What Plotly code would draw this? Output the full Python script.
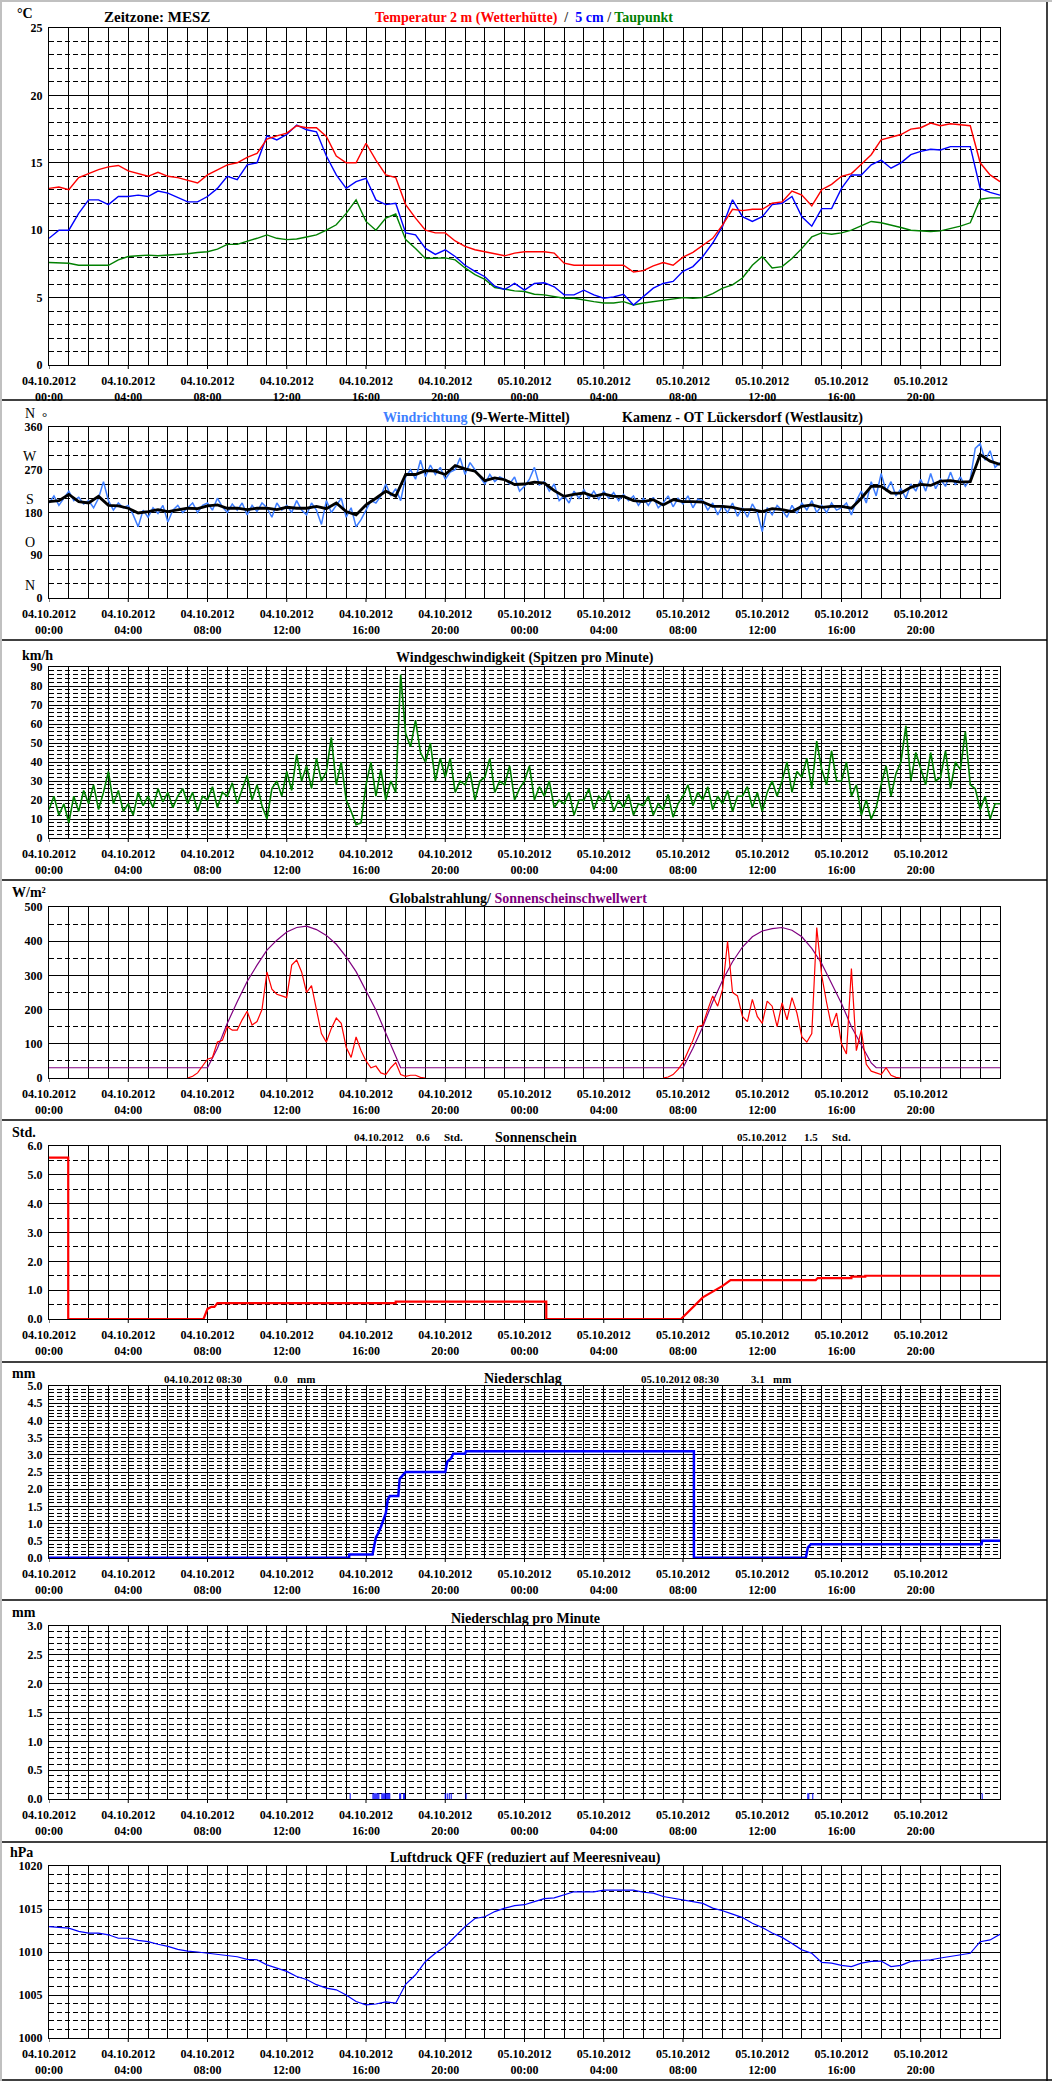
import plotly.graph_objects as go

# ---------------- data (x = hours since 04.10.2012 00:00 MESZ) ----------------
HALF_HOURS = [i * 0.5 for i in range(97)]
QUARTER_HOURS = [i * 0.25 for i in range(193)]
HOUR_GRID = list(range(49))

XTICK_HOURS = [0, 4, 8, 12, 16, 20, 24, 28, 32, 36, 40, 44]
XTICK_TEXT = ["04.10.2012<br>00:00", "04.10.2012<br>04:00", "04.10.2012<br>08:00",
              "04.10.2012<br>12:00", "04.10.2012<br>16:00", "04.10.2012<br>20:00",
              "05.10.2012<br>00:00", "05.10.2012<br>04:00", "05.10.2012<br>08:00",
              "05.10.2012<br>12:00", "05.10.2012<br>16:00", "05.10.2012<br>20:00"]

temp_2m = [13.1, 13.2, 13.0, 13.9, 14.2, 14.5, 14.7, 14.8, 14.4, 14.2, 14.0, 14.3, 14.0, 13.9, 13.7, 13.5,
           14.1, 14.5, 14.85, 15.0, 15.4, 15.7, 16.75, 17.0, 17.2, 17.75, 17.6, 17.6, 16.95, 15.5, 15.0, 15.0,
           16.45, 15.2, 14.1, 13.9, 11.9, 10.9, 10.0, 9.8, 9.8, 9.2, 8.8, 8.55, 8.4, 8.2, 8.1, 8.3,
           8.4, 8.4, 8.4, 8.3, 7.55, 7.4, 7.4, 7.4, 7.35, 7.4, 7.4, 6.9, 7.0, 7.35, 7.6, 7.4,
           8.0, 8.35, 8.9, 9.4, 10.4, 11.55, 11.45, 11.55, 11.55, 12.0, 12.1, 12.9, 12.6, 11.8, 13.0, 13.4,
           14.0, 14.2, 14.9, 15.6, 16.7, 16.9, 17.1, 17.5, 17.6, 17.95, 17.75, 17.9, 17.8, 17.75, 15.0, 14.1, 13.6]

temp_5cm = [9.4, 10.0, 10.0, 11.25, 12.25, 12.25, 11.9, 12.5, 12.5, 12.6, 12.5, 12.9, 12.75, 12.45, 12.1, 12.1,
            12.5, 13.1, 14.0, 13.75, 14.85, 15.0, 17.0, 16.7, 17.1, 17.8, 17.45, 17.3, 15.5, 14.1, 13.1, 13.6,
            13.85, 12.25, 11.9, 12.0, 9.8, 9.65, 8.65, 8.2, 8.55, 8.05, 7.4, 6.95, 6.55, 5.85, 5.6, 6.05,
            5.55, 6.05, 6.1, 5.8, 5.2, 5.2, 5.55, 5.2, 4.95, 5.05, 5.25, 4.45, 5.1, 5.7, 6.05, 6.2,
            6.95, 7.3, 8.05, 9.05, 10.3, 12.25, 11.0, 10.65, 11.0, 11.9, 12.0, 12.5, 11.0, 10.3, 11.6, 11.6,
            13.1, 14.1, 14.1, 14.85, 15.2, 14.6, 15.0, 15.6, 15.85, 16.0, 15.95, 16.2, 16.2, 16.2, 13.1, 12.8, 12.6]

dewpoint = [7.6, 7.55, 7.55, 7.4, 7.4, 7.4, 7.4, 7.8, 8.05, 8.1, 8.15, 8.1, 8.15, 8.15, 8.25, 8.35,
            8.4, 8.6, 8.95, 8.95, 9.15, 9.4, 9.65, 9.4, 9.3, 9.35, 9.5, 9.65, 10.0, 10.4, 11.25, 12.25,
            10.65, 10.0, 10.9, 11.2, 9.3, 8.65, 7.9, 7.9, 7.95, 7.8, 7.2, 6.7, 6.35, 5.75, 5.6, 5.5,
            5.45, 5.25, 5.2, 5.1, 4.95, 4.95, 4.8, 4.7, 4.6, 4.6, 4.7, 4.45, 4.6, 4.7, 4.8, 4.9,
            5.0, 4.95, 5.0, 5.3, 5.7, 5.95, 6.45, 7.4, 8.05, 7.2, 7.3, 7.9, 8.65, 9.5, 9.8, 9.7,
            9.8, 10.0, 10.3, 10.65, 10.55, 10.4, 10.2, 10.0, 9.95, 9.9, 9.95, 10.1, 10.3, 10.55, 12.3, 12.4, 12.4]

wind_dir_mean = [203, 205, 218, 203, 200, 214, 195, 194, 189, 179, 182, 186, 182, 186, 189, 188,
                 194, 196, 189, 189, 186, 189, 189, 186, 191, 189, 189, 193, 188, 200, 182, 175,
                 196, 210, 225, 214, 260, 260, 268, 267, 260, 279, 272, 267, 247, 253, 249, 239,
                 240, 244, 242, 226, 214, 218, 221, 214, 219, 214, 214, 205, 203, 207, 196, 207,
                 203, 203, 202, 193, 193, 191, 186, 186, 182, 188, 186, 182, 193, 196, 191, 193,
                 193, 189, 210, 235, 235, 221, 221, 233, 239, 237, 246, 247, 244, 245, 302, 288, 281]

wind_dir_raw = [200, 215, 195, 210, 225, 205, 212, 198, 205, 190, 210, 245, 205, 185, 200, 190,
                195, 175, 150, 185, 170, 190, 178, 195, 160, 185, 195, 180, 190, 200, 180, 195,
                200, 185, 210, 192, 180, 198, 185, 200, 175, 195, 182, 200, 190, 170, 200, 185,
                195, 180, 205, 185, 175, 200, 185, 155, 205, 180, 195, 210, 170, 190, 150, 165,
                185, 205, 200, 215, 240, 215, 230, 205, 255, 270, 250, 290, 255, 280, 260, 275,
                250, 265, 270, 295, 260, 285, 270, 255, 240, 260, 245, 255, 250, 240, 255, 225,
                235, 250, 275, 238, 245, 225, 240, 205, 215, 200, 225, 210, 228, 210, 225, 208,
                225, 210, 222, 205, 218, 205, 215, 195, 210, 195, 212, 190, 200, 215, 192, 210,
                198, 215, 190, 208, 205, 185, 200, 175, 195, 180, 200, 172, 190, 170, 198, 180,
                140, 190, 175, 195, 185, 170, 195, 178, 200, 185, 205, 180, 195, 180, 200, 185,
                190, 200, 175, 205, 225, 200, 245, 215, 262, 225, 245, 215, 230, 210, 240, 225,
                250, 225, 262, 230, 250, 235, 265, 238, 255, 235, 250, 315, 325, 290, 310, 275,
                285]

wind_speed = [15, 22, 12, 18, 8, 22, 14, 25, 18, 28, 15, 24, 35, 18, 25, 14,
              18, 12, 24, 17, 22, 16, 26, 19, 24, 16, 22, 26, 18, 24, 14, 22,
              20, 27, 16, 24, 22, 29, 18, 26, 33, 20, 28, 17, 10, 26, 30, 22,
              35, 25, 44, 30, 38, 26, 42, 30, 35, 53, 28, 40, 20, 14, 7, 8,
              28, 40, 22, 36, 20, 30, 24, 86, 55, 48, 62, 45, 40, 50, 30, 42,
              32, 42, 24, 30, 28, 35, 20, 30, 32, 42, 24, 30, 28, 38, 20, 26,
              30, 38, 20, 27, 22, 30, 16, 20, 18, 24, 12, 20, 20, 26, 15, 22,
              19, 25, 14, 20, 16, 23, 12, 18, 17, 22, 12, 18, 15, 23, 11, 18,
              22, 28, 17, 24, 20, 27, 15, 22, 18, 25, 14, 22, 22, 27, 16, 24,
              14, 24, 30, 22, 30, 40, 24, 35, 32, 42, 26, 51, 36, 28, 46, 30,
              30, 40, 22, 28, 12, 20, 10, 16, 28, 38, 22, 34, 40, 59, 30, 45,
              36, 28, 45, 30, 32, 46, 26, 40, 36, 56, 28, 26, 15, 22, 10, 18,
              18]

rad_day1_t = [7.0 + 0.25 * i for i in range(49)]
rad_day1 = [0, 5, 15, 35, 55, 60, 105, 110, 150, 140, 140, 170, 195, 155, 165, 200, 310, 260, 245, 240,
            235, 330, 345, 310, 250, 270, 200, 130, 105, 145, 175, 160, 90, 60, 120, 80, 50, 30, 35, 15,
            10, 30, 45, 10, 5, 8, 8, 2, 0]
rad_day2_t = [31.0 + 0.25 * i for i in range(49)]
rad_day2 = [0, 3, 10, 25, 45, 75, 110, 150, 155, 200, 240, 210, 260, 400, 250, 240, 180, 165, 230, 180,
            160, 225, 210, 150, 220, 170, 235, 190, 120, 105, 130, 440, 300, 220, 150, 190, 100, 70, 320, 80,
            140, 40, 20, 15, 10, 30, 8, 2, 0]

threshold_t = [0, 8.0, 8.5, 9, 9.5, 10, 10.5, 11, 11.5, 12, 12.5, 13, 13.5, 14, 14.5, 15, 15.5, 16, 16.5, 17,
               17.4, 17.75, 32.0, 32.5, 33, 33.5, 34, 34.5, 35, 35.5, 36, 36.5, 37, 37.5, 38, 38.5, 39, 39.5,
               40, 40.5, 41, 41.5, 41.75, 48]
threshold = [30, 30, 87, 160, 223, 282, 330, 374, 403, 427, 440, 444, 434, 417, 391, 354, 311, 257, 199, 131,
             75, 30, 30, 87, 150, 223, 286, 340, 383, 413, 430, 437, 440, 432, 413, 379, 335, 277,
             218, 150, 97, 44, 30, 30]

sun_t = [0, 0.97, 0.97, 7.8, 8.0, 8.2, 8.35, 8.5, 17.5, 17.5, 25.1, 25.1, 31.9, 32.5, 33.0, 33.5, 34.0,
         34.4, 38.7, 38.8, 40.5, 40.5, 41.2, 41.2, 48]
sun_h = [5.6, 5.6, 0.0, 0.0, 0.35, 0.42, 0.42, 0.55, 0.55, 0.6, 0.6, 0.0, 0.0, 0.4, 0.75, 0.95, 1.15,
         1.35, 1.35, 1.42, 1.42, 1.47, 1.47, 1.5, 1.5]

rain_t = [0, 15.15, 15.15, 16.33, 16.5, 16.6, 16.75, 17.0, 17.1, 17.2, 17.63, 17.7, 17.85, 18.0, 20.0,
          20.1, 20.3, 20.4, 21.0, 21.05, 32.55, 32.55, 38.2, 38.3, 38.45, 47.07, 47.1, 48]
rain_mm = [0.01, 0.01, 0.1, 0.1, 0.6, 0.7, 0.9, 1.3, 1.7, 1.8, 1.8, 2.3, 2.4, 2.5, 2.5,
           2.8, 2.9, 3.03, 3.03, 3.1, 3.1, 0.01, 0.01, 0.3, 0.4, 0.4, 0.5, 0.5]

rain_min_t = [15.2, 16.35, 16.4, 16.45, 16.5, 16.55, 16.6, 16.65, 16.8, 16.85, 16.9, 16.95, 17.0, 17.05,
              17.1, 17.15, 17.2, 17.7, 17.75, 17.9, 17.95, 20.0, 20.1, 20.2, 20.3, 21.05, 38.3, 38.35,
              38.55, 47.1]
rain_min_mm = [0.1] * len(rain_min_t)

pressure = [1012.96, 1012.85, 1012.77, 1012.4, 1012.2, 1012.2, 1012.0, 1011.6, 1011.6, 1011.35,
            1011.2, 1010.9, 1010.65, 1010.3, 1010.1, 1010.0, 1009.85, 1009.75, 1009.55, 1009.45,
            1009.15, 1009.1, 1008.5, 1008.1, 1007.75, 1007.15, 1006.8, 1006.2, 1005.8, 1005.6,
            1005.0, 1004.25, 1003.85, 1003.95, 1004.2, 1004.05, 1006.25, 1007.35, 1008.9, 1009.85,
            1010.65, 1011.8, 1012.95, 1013.9, 1014.1, 1014.7, 1015.1, 1015.4,
            1015.5, 1015.85, 1016.2, 1016.3, 1016.65, 1017.0, 1017.0, 1017.0, 1017.2, 1017.2,
            1017.15, 1017.2, 1016.95, 1016.85, 1016.45, 1016.25, 1016.05, 1015.8, 1015.65, 1015.1,
            1014.8, 1014.4, 1014.0, 1013.35, 1012.85, 1012.2, 1011.7, 1011.0, 1010.25, 1009.85,
            1008.8, 1008.7, 1008.45, 1008.3, 1008.7, 1008.9, 1008.95, 1008.3, 1008.45, 1008.9,
            1009.0, 1009.1, 1009.3, 1009.5, 1009.65, 1009.85, 1011.2, 1011.4, 1012.05]

# ---------------- layout geometry (pixels) ----------------
W, H = 1052, 2081
FONT = "Liberation Serif"
PLOT_L, PLOT_R = 49, 1000
PANELS = [(28, 365), (427, 598), (667, 838), (907, 1078), (1146, 1319), (1386, 1558), (1626, 1799), (1866, 2038)]
YCFG = [
    dict(r=[0, 25], d=5, m=1, f=""),
    dict(r=[0, 360], d=90, m=30, f=""),
    dict(r=[0, 90], d=10, m=2, f=""),
    dict(r=[0, 500], d=100, m=50, f=""),
    dict(r=[0, 6], d=1, m=0.5, f=".1f"),
    dict(r=[0, 5], d=0.5, m=0.1, f=".1f"),
    dict(r=[0, 3], d=0.5, m=0.1, f=".1f"),
    dict(r=[1000, 1020], d=5, m=1, f=""),
]

grid_text = []
for h in HOUR_GRID:
    grid_text.append(XTICK_TEXT[XTICK_HOURS.index(h)] if h in XTICK_HOURS else "")

fig = go.Figure()


def ax(n):
    return ("x" if n == 1 else f"x{n}"), ("y" if n == 1 else f"y{n}")


def line(n, x, y, color, width=1.0, shape="linear"):
    xa, ya = ax(n)
    fig.add_trace(go.Scatter(x=x, y=y, mode="lines", line=dict(color=color, width=width, shape=shape),
                             xaxis=xa, yaxis=ya, hoverinfo="skip"))


# panel 1 temperatures
line(1, HALF_HOURS, dewpoint, "#008000", 1.4)
line(1, HALF_HOURS, temp_5cm, "#0000ff", 1.4)
line(1, HALF_HOURS, temp_2m, "#ff0000", 1.4)
# panel 2 wind direction
line(2, QUARTER_HOURS, wind_dir_raw, "#3d7dff", 1.5)
line(2, HALF_HOURS, wind_dir_mean, "#000000", 2.8)
# panel 3 wind speed
line(3, QUARTER_HOURS, wind_speed, "#008000", 1.6)
# panel 4 radiation
line(4, threshold_t, threshold, "#800080", 1.2)
line(4, rad_day1_t, rad_day1, "#ff0000", 1.2)
line(4, rad_day2_t, rad_day2, "#ff0000", 1.2)
# panel 5 sunshine
line(5, sun_t, sun_h, "#ff0000", 2.2)
# panel 6 precipitation
line(6, rain_t, rain_mm, "#0000ff", 2.5)
# panel 7 precipitation per minute
fig.add_trace(go.Bar(x=rain_min_t, y=rain_min_mm, width=0.05, marker=dict(color="#0000ff", line=dict(width=0)),
                     xaxis="x7", yaxis="y7", hoverinfo="skip"))
# panel 8 pressure
line(8, HALF_HOURS, pressure, "#0000ff", 1.2)

layout = dict(template="none", width=W, height=H, margin=dict(l=0, r=0, t=0, b=0, pad=0, autoexpand=False),
              autosize=False, paper_bgcolor="white", plot_bgcolor="white", showlegend=False, hovermode=False)

shapes = []
for i, ((top, bot), yc) in enumerate(zip(PANELS, YCFG), start=1):
    xk = "xaxis" if i == 1 else f"xaxis{i}"
    yk = "yaxis" if i == 1 else f"yaxis{i}"
    xa, ya = ax(i)
    layout[xk] = dict(domain=[PLOT_L / W, PLOT_R / W], range=[0, 48], anchor=ya, automargin=False,
                      tickmode="array", tickvals=HOUR_GRID, ticktext=grid_text,
                      ticks="", ticklabelstandoff=5,
                      showgrid=True, gridcolor="black", gridwidth=1,
                      showline=True, linecolor="black", linewidth=1, mirror=True, zeroline=False,
                      tickfont=dict(family=FONT, size=12, color="black", weight="bold"), fixedrange=True)
    layout[yk] = dict(domain=[1 - bot / H, 1 - top / H], range=yc["r"], anchor=xa, automargin=False,
                      tickmode="linear", tick0=yc["r"][0], dtick=yc["d"], tickformat=yc["f"],
                      showgrid=True, gridcolor="black", gridwidth=1,
                      minor=dict(tickmode="linear", tick0=yc["r"][0], dtick=yc["m"], showgrid=True,
                                 gridcolor="black", gridwidth=1, griddash="5px,3px", ticks=""),
                      showline=True, linecolor="black", linewidth=1, mirror=True, zeroline=False,
                      ticks="", ticklabelstandoff=3,
                      tickfont=dict(family=FONT, size=12, color="black", weight="bold"), fixedrange=True)
    # 4-hourly tick marks below the axis
    for h in XTICK_HOURS:
        shapes.append(dict(type="line", xref=xa, yref="paper", x0=h, x1=h,
                           y0=1 - bot / H, y1=1 - (bot + 4) / H, line=dict(color="black", width=1)))

anns = []


def txt(x, y, s, size=14, anchor="center", color="black", bold=True):
    anns.append(dict(xref="paper", yref="paper", x=x / W, y=1 - y / H, text=s, showarrow=False,
                     xanchor=anchor, yanchor="middle",
                     font=dict(family=FONT, size=size, color=color, weight="bold" if bold else "normal")))


# panel 1
txt(15, 14, "°C", 14, "left")
txt(157, 17, "Zeitzone: MESZ", 15)
txt(373, 18, '<span style="color:#ff0000">Temperatur 2 m (Wetterhütte)</span>&nbsp; /&nbsp; '
             '<span style="color:#0000ff">5 cm</span> / <span style="color:#008000">Taupunkt</span>',
    14, "left", "#333333")
# panel 2
txt(381, 418, '<span style="color:#4080ff">Windrichtung</span> (9-Werte-Mittel)', 14, "left")
txt(620, 418, "Kamenz - OT Lückersdorf (Westlausitz)", 14, "left")
top2, bot2 = PANELS[1]
for val, letter in [(0, "N"), (90, "O"), (180, "S"), (270, "W"), (360, "N")]:
    py = top2 + (360 - val) / 360 * (bot2 - top2)
    txt(30, py - 13, letter, 14, "center", bold=False)
txt(40, top2 - 11, "°", 13, "left", bold=False)
# panel 3
txt(20, 655, "km/h", 14, "left")
txt(525, 658, "Windgeschwindigkeit (Spitzen pro Minute)", 14)
# panel 4
txt(10, 893, "W/m²", 14, "left")
txt(387, 898, 'Globalstrahlung/ <span style="color:#800080">Sonnenscheinschwellwert</span>', 14, "left")
# panel 5
txt(10, 1132, "Std.", 14, "left")
txt(352, 1137, "04.10.2012", 11, "left")
txt(414, 1137, "0.6", 11, "left")
txt(442, 1137, "Std.", 11, "left")
txt(493, 1137, "Sonnenschein", 14, "left")
txt(735, 1137, "05.10.2012", 11, "left")
txt(802, 1137, "1.5", 11, "left")
txt(830, 1137, "Std.", 11, "left")
# panel 6
txt(10, 1373, "mm", 14, "left")
txt(162, 1379, "04.10.2012 08:30", 11, "left")
txt(272, 1379, "0.0", 11, "left")
txt(295, 1379, "mm", 11, "left")
txt(482, 1378, "Niederschlag", 14, "left")
txt(639, 1379, "05.10.2012 08:30", 11, "left")
txt(749, 1379, "3.1", 11, "left")
txt(771, 1379, "mm", 11, "left")
# panel 7
txt(10, 1612, "mm", 14, "left")
txt(525, 1618, "Niederschlag pro Minute", 14)
# panel 8
txt(8, 1852, "hPa", 14, "left")
txt(525, 1858, "Luftdruck QFF (reduziert auf Meeresniveau)", 14)

for py in [400, 640, 880, 1120, 1362, 1600, 1842]:
    shapes.append(dict(type="line", xref="paper", yref="paper", x0=0, x1=1047 / W, y0=1 - py / H, y1=1 - py / H,
                       line=dict(color="black", width=1.5)))
shapes.append(dict(type="line", xref="paper", yref="paper", x0=1047 / W, x1=1047 / W, y0=0, y1=1,
                   line=dict(color="black", width=1.5)))
shapes.append(dict(type="line", xref="paper", yref="paper", x0=0, x1=1, y0=1 - 2080 / H, y1=1 - 2080 / H,
                   line=dict(color="black", width=1.5)))
shapes.append(dict(type="line", xref="paper", yref="paper", x0=1 / W, x1=1 / W, y0=0, y1=1,
                   line=dict(color="#c0c0c0", width=2)))
shapes.append(dict(type="line", xref="paper", yref="paper", x0=0, x1=1, y0=1 - 1 / H, y1=1 - 1 / H,
                   line=dict(color="#c0c0c0", width=2)))

layout["annotations"] = anns
layout["shapes"] = shapes
fig.update_layout(**layout)
fig.write_html("out.html", config={"displayModeBar": False, "staticPlot": True},
               post_script="document.body.style.margin='0px';document.body.style.overflow='hidden';")
